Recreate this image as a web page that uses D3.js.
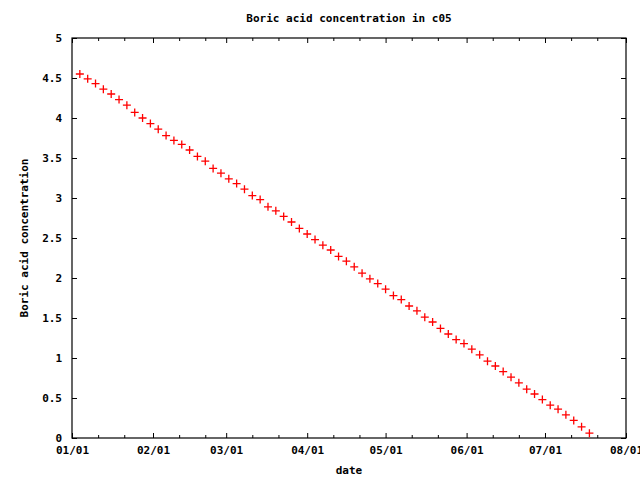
<!DOCTYPE html>
<html>
<head>
<meta charset="utf-8">
<script src="https://cdn.jsdelivr.net/npm/d3@7"></script>
<style>
  body { margin: 0; background: #fff; }
  text { font-family: "DejaVu Sans Mono", monospace; font-weight: bold; font-size: 11px; fill: #000; }
</style>
</head>
<body>
<svg id="chart" width="640" height="480"></svg>
<script>
// sample dates (every 3 days) and measured concentration
const dates = [
  "2021-01-04","2021-01-07","2021-01-10","2021-01-13","2021-01-16","2021-01-19","2021-01-22","2021-01-25","2021-01-28","2021-01-31",
  "2021-02-03","2021-02-06","2021-02-09","2021-02-12","2021-02-15","2021-02-18","2021-02-21","2021-02-24","2021-02-27",
  "2021-03-02","2021-03-05","2021-03-08","2021-03-11","2021-03-14","2021-03-17","2021-03-20","2021-03-23","2021-03-26","2021-03-29",
  "2021-04-01","2021-04-04","2021-04-07","2021-04-10","2021-04-13","2021-04-16","2021-04-19","2021-04-22","2021-04-25","2021-04-28",
  "2021-05-01","2021-05-04","2021-05-07","2021-05-10","2021-05-13","2021-05-16","2021-05-19","2021-05-22","2021-05-25","2021-05-28","2021-05-31",
  "2021-06-03","2021-06-06","2021-06-09","2021-06-12","2021-06-15","2021-06-18","2021-06-21","2021-06-24","2021-06-27","2021-06-30",
  "2021-07-03","2021-07-06","2021-07-09","2021-07-12","2021-07-15","2021-07-18"
];
const boric = [
  4.55,4.49,4.43,4.36,4.30,4.23,4.16,4.07,4.00,3.93,
  3.86,3.78,3.72,3.67,3.60,3.52,3.46,3.37,3.31,
  3.24,3.18,3.11,3.03,2.98,2.89,2.84,2.77,2.70,2.62,
  2.55,2.48,2.41,2.35,2.27,2.21,2.14,2.06,1.99,1.93,
  1.86,1.78,1.73,1.65,1.59,1.51,1.45,1.37,1.30,1.23,1.18,
  1.11,1.04,0.96,0.90,0.83,0.76,0.69,0.61,0.55,0.48,
  0.41,0.36,0.29,0.22,0.14,0.06
];
const xTicks = ["2021-01-01","2021-02-01","2021-03-01","2021-04-01","2021-05-01","2021-06-01","2021-07-01","2021-08-01"];
const yTicks = [0,0.5,1,1.5,2,2.5,3,3.5,4,4.5,5];

const parse = d3.timeParse("%Y-%m-%d");
const mLeft = 72, mRight = 626, mTop = 38, mBottom = 438;
const svg = d3.select("#chart");

const x = d3.scaleTime().domain([parse(xTicks[0]), parse(xTicks[xTicks.length - 1])]).range([mLeft, mRight]);
const y = d3.scaleLinear().domain([0, 5]).range([mBottom, mTop]);

// minor ticks on the 11th and 21st of each month
const minor = d3.timeMonths(x.domain()[0], x.domain()[1])
  .flatMap(m => [d3.timeDay.offset(m, 10), d3.timeDay.offset(m, 20)]);

svg.append("g").attr("transform", `translate(0,${mBottom})`)
  .call(d3.axisBottom(x).tickValues(xTicks.map(parse)).tickFormat(d3.timeFormat("%m/%d")).tickSize(-5).tickPadding(10))
  .call(g => g.selectAll("text").attr("dy", "0.5em"));
svg.append("g").attr("transform", `translate(0,${mTop})`)
  .call(d3.axisTop(x).tickValues(xTicks.map(parse)).tickFormat("").tickSize(-5));
svg.append("g").attr("transform", `translate(0,${mBottom})`)
  .call(d3.axisBottom(x).tickValues(minor).tickFormat("").tickSize(-3));
svg.append("g").attr("transform", `translate(0,${mTop})`)
  .call(d3.axisTop(x).tickValues(minor).tickFormat("").tickSize(-3));
svg.append("g").attr("transform", `translate(${mLeft},0)`)
  .call(d3.axisLeft(y).tickValues(yTicks).tickFormat(d => String(d)).tickSize(-5).tickPadding(10));
svg.append("g").attr("transform", `translate(${mRight},0)`)
  .call(d3.axisRight(y).tickValues(yTicks).tickFormat("").tickSize(-5));

svg.selectAll(".domain").remove();
svg.selectAll(".tick line").attr("stroke", "#000");
svg.selectAll(".tick text").style("font-family", "'DejaVu Sans Mono', monospace").style("font-weight", "bold").style("font-size", "11px");

svg.append("rect").attr("x", mLeft).attr("y", mTop).attr("width", mRight - mLeft).attr("height", mBottom - mTop)
  .attr("fill", "none").attr("stroke", "#000").attr("stroke-width", 1.2);

// data points as "+" marks
const pts = svg.append("g");
dates.forEach((d, i) => {
  const cx = x(parse(d)), cy = y(boric[i]);
  pts.append("path").attr("d", `M${cx - 4},${cy}H${cx + 4}M${cx},${cy - 4}V${cy + 4}`)
    .attr("stroke", "#f00").attr("stroke-width", 1.3).attr("fill", "none");
});

svg.append("text").attr("x", 349).attr("y", 22).attr("text-anchor", "middle").text("Boric acid concentration in c05");
svg.append("text").attr("x", 349).attr("y", 474).attr("text-anchor", "middle").text("date");
svg.append("text").attr("transform", "translate(28,238) rotate(-90)").attr("text-anchor", "middle").text("Boric acid concentration");
</script>
</body>
</html>
